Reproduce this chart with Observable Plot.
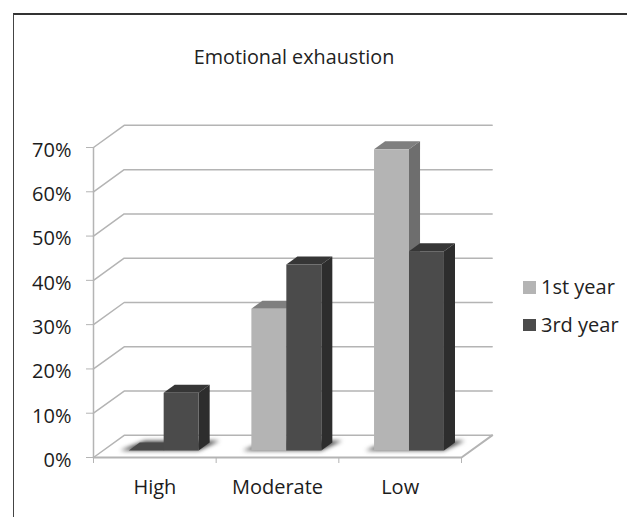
<!DOCTYPE html>
<html>
<head>
<meta charset="utf-8">
<script src="https://cdn.jsdelivr.net/npm/d3@7"></script>
<script src="https://cdn.jsdelivr.net/npm/@observablehq/plot@0.6"></script>
<style>
  html, body { margin: 0; padding: 0; background: #fff; }
  #chart { position: relative; width: 627px; height: 517px; overflow: hidden; font-family: "Open Sans", sans-serif; color: #222; }
  #frame { position: absolute; left: 13px; top: 13px; right: -2px; bottom: -2px; border-top: 2px solid #333; border-left: 1.5px solid #444; }
  #chart svg { position: absolute; left: 0; top: 0; }
  #title { position: absolute; left: 0; width: 588px; top: 44px; text-align: center; font-size: 19.8px; line-height: 26px; }
  .row { position: absolute; left: 523px; height: 26px; line-height: 26px; font-size: 20px; white-space: nowrap; }
  .row i { position: absolute; left: 0; top: 7px; width: 12.5px; height: 12.5px; }
  .row span { position: absolute; left: 18px; }
</style>
</head>
<body>
<div id="chart">
  <div id="frame"></div>
  <div id="title"></div>
</div>
<script>
const titleText = "Emotional exhaustion";
const categories = ["High", "Moderate", "Low"];
const seriesNames = ["1st year", "3rd year"];
const firstYear = [0, 32, 68];
const thirdYear = [13, 42, 45];
const percentTicks = [0, 10, 20, 30, 40, 50, 60, 70];
const frontColors = ["#b4b4b4", "#4b4b4b"];
const sideColors = ["#6e6e6e", "#2d2d2d"];
const topColors = ["#7f7f7f", "#363636"];
const shadowColor = "#4a4a4a";

const skewX = 0.25, skewY = 5;               // oblique projection of depth, in scale units
const depthFront = 0.32, depthBack = 0.68;   // bar depth range within the floor
const barInset = 0.207, barWidth = 0.285;    // within one category

const at = (u, v, d) => ({x: u + d * skewX, y: v + d * skewY});
const polys = [];
const shadows = [];
let id = 0;
const poly = (target, fill, pts) => { id++; pts.forEach(p => target.push({...p, id, fill})); };

categories.forEach((c, i) => {
  const u0 = i + barInset, u1 = u0 + barWidth, u2 = u1 + barWidth;
  poly(shadows, shadowColor, [
    at(u0 - 0.07, 0, depthFront), at(u2, 0, depthFront),
    at(u2 + 0.06, 0, depthBack + 0.08), at(u0 + 0.02, 0, depthBack + 0.08)
  ]);
  [firstYear[i], thirdYear[i]].forEach((v, s) => {
    const a = s === 0 ? u0 : u1, b = a + barWidth;
    if (v === 0) {
      poly(polys, shadowColor, [at(a, 0, depthFront), at(b, 0, depthFront), at(b, 0, depthBack), at(a, 0, depthBack)]);
      return;
    }
    poly(polys, topColors[s], [at(a, v, depthFront), at(b, v, depthFront), at(b, v, depthBack), at(a, v, depthBack)]);
    poly(polys, sideColors[s], [at(b, 0, depthFront), at(b, v, depthFront), at(b, v, depthBack), at(b, 0, depthBack)]);
    poly(polys, frontColors[s], [at(a, 0, depthFront), at(b, 0, depthFront), at(b, v, depthFront), at(a, v, depthFront)]);
  });
});

const wallLines = percentTicks.flatMap(p => [
  {x: 0, y: p, p}, {...at(0, p, 1), p}, {...at(3, p, 1), p}
]);
const floorEdge = [{x: 0, y: 0}, {x: 3, y: 0}, at(3, 0, 1)];
const textColor = "#1c1c1c";
const gridColor = "#b4b4b4";
const noLabel = () => "";

const svg = Plot.plot({
  width: 627, height: 517,
  marginLeft: 93, marginRight: 166, marginTop: 147, marginBottom: 60,
  style: {fontFamily: '"Open Sans", sans-serif', background: "transparent", overflow: "visible"},
  x: {domain: [0, 3], label: null},
  y: {domain: [0, 70], label: null},
  color: {type: "identity"},
  marks: [
    Plot.line(wallLines, {x: "x", y: "y", z: "p", stroke: gridColor, strokeWidth: 1.5}),
    Plot.ruleX([0], {y1: 0, y2: 70, stroke: gridColor, strokeWidth: 1.5}),
    Plot.line(floorEdge, {x: "x", y: "y", stroke: gridColor, strokeWidth: 2}),
    Plot.axisY({ticks: percentTicks, tickSize: 7, tickFormat: noLabel, stroke: gridColor, label: null}),
    Plot.axisX({ticks: [0, 1, 2, 3], tickSize: 6, tickFormat: noLabel, stroke: gridColor, label: null}),
    Plot.axisY({ticks: percentTicks, tickSize: 0, tickPadding: 22, dy: 3, tickFormat: d => d + "%", fontSize: 20, fill: textColor, label: null}),
    Plot.axisX({ticks: [0.5, 1.5, 2.5], tickSize: 0, tickPadding: 22, tickFormat: d => categories[d - 0.5], fontSize: 20, fill: textColor, label: null}),
    Plot.line(shadows, {x: "x", y: "y", z: "id", fill: "fill", stroke: null, imageFilter: "blur(2px)"}),
    Plot.line(polys, {x: "x", y: "y", z: "id", fill: "fill", stroke: null})
  ]
});
const chart = document.getElementById("chart");
chart.appendChild(svg);
document.getElementById("title").textContent = titleText;
seriesNames.forEach((name, i) => {
  const row = document.createElement("div");
  row.className = "row";
  row.style.top = (274 + i * 37.5) + "px";
  row.innerHTML = `<i style="background:${frontColors[i]}"></i><span>${name}</span>`;
  chart.appendChild(row);
});
</script>
</body>
</html>
